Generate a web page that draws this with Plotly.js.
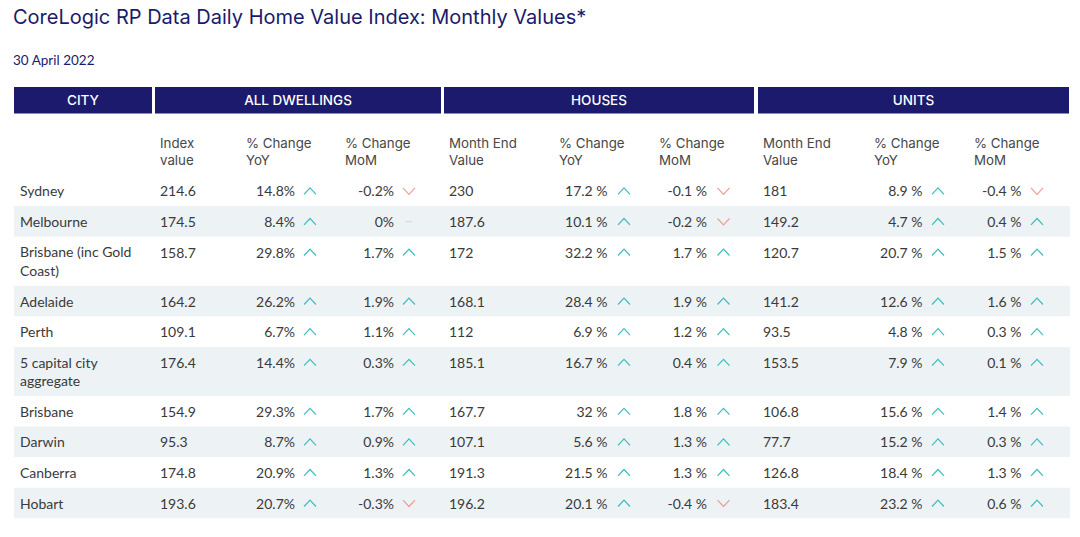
<!DOCTYPE html>
<html><head><meta charset="utf-8">
<script src="https://cdn.plot.ly/plotly-3.0.1.min.js"></script>
<style>html,body{margin:0;padding:0;background:#fff}#chart{width:1080px;height:537px}</style>
</head><body><div id="chart"></div>
<script>
// ---------- data ----------
const titleText = "CoreLogic RP Data Daily Home Value Index: Monthly Values*";
const dateText = "30 April 2022";
const groupHeaders = ["CITY", "ALL DWELLINGS", "HOUSES", "UNITS"];
const subHeaders = ["Index<br>value", "% Change<br>YoY", "% Change<br>MoM",
  "Month End<br>Value", "% Change<br>YoY", "% Change<br>MoM",
  "Month End<br>Value", "% Change<br>YoY", "% Change<br>MoM"];
const cities = ["Sydney", "Melbourne", "Brisbane (inc Gold<br>Coast)", "Adelaide", "Perth",
  "5 capital city<br>aggregate", "Brisbane", "Darwin", "Canberra", "Hobart"];
const dwIndex = [214.6, 174.5, 158.7, 164.2, 109.1, 176.4, 154.9, 95.3, 174.8, 193.6];
const dwYoY   = [14.8, 8.4, 29.8, 26.2, 6.7, 14.4, 29.3, 8.7, 20.9, 20.7];
const dwMoM   = [-0.2, 0, 1.7, 1.9, 1.1, 0.3, 1.7, 0.9, 1.3, -0.3];
const hoValue = [230, 187.6, 172, 168.1, 112, 185.1, 167.7, 107.1, 191.3, 196.2];
const hoYoY   = [17.2, 10.1, 32.2, 28.4, 6.9, 16.7, 32, 5.6, 21.5, 20.1];
const hoMoM   = [-0.1, -0.2, 1.7, 1.9, 1.2, 0.4, 1.8, 1.3, 1.3, -0.4];
const unValue = [181, 149.2, 120.7, 141.2, 93.5, 153.5, 106.8, 77.7, 126.8, 183.4];
const unYoY   = [8.9, 4.7, 20.7, 12.6, 4.8, 7.9, 15.6, 15.2, 18.4, 23.2];
const unMoM   = [-0.4, 0.4, 1.5, 1.6, 0.3, 0.1, 1.4, 0.3, 1.3, 0.6];

// ---------- layout geometry (pixel-like axis units) ----------
const NAVY = "#1b1a6c";
const TXT = "#3a3a3a";
const HDR = "#474747";
const UP = "#3dbdbd";
const DOWN = "#f39b93";
const FLAT = "#c9dfe3";
const SHADE = "#edf2f5";
const bodyFont = "Lato, 'Noto Sans', sans-serif";
const headFont = "Inter, 'Noto Sans', sans-serif";

const groupBoxes = [[14, 152], [155, 441], [444, 754], [758, 1069]];
const boxTop = 87, boxBot = 113.5;
const subX = [160, 246, 345, 449, 559, 659, 763, 874, 974];
const subY = 153;
const cityX = 20;
const tableLeft = 14, tableRight = 1070;
const rowTop0 = 175.5, rowH = 30.6, extraLine = 18.4;
const textShift = 2;

// row geometry
const lineCount = cities.map(c => c.split("<br>").length);
const rowTops = [];
let acc = rowTop0;
lineCount.forEach(n => { rowTops.push(acc); acc += rowH + (n - 1) * extraLine; });
const rowBots = rowTops.map((t, i) => t + rowH + (lineCount[i] - 1) * extraLine);
const firstLineY = rowTops.map(t => t + 15.3);
const textY = firstLineY.map(y => y + textShift);

const traces = [];
const shapes = [];

// header boxes
groupBoxes.forEach(b => shapes.push({type: "rect", xref: "x", yref: "y", x0: b[0], x1: b[1],
  y0: boxTop, y1: boxBot, fillcolor: NAVY, line: {width: 0}, layer: "below"}));
traces.push({type: "scatter", mode: "text", x: groupBoxes.map(b => (b[0] + b[1]) / 2),
  y: groupBoxes.map(() => (boxTop + boxBot) / 2 + 1.5), text: groupHeaders, textposition: "middle center",
  textfont: {family: headFont, size: 13.5, color: "#ffffff", weight: 500}, hoverinfo: "skip"});

// sub headers
traces.push({type: "scatter", mode: "text", x: subX, y: subX.map(() => subY), text: subHeaders,
  textposition: "middle right", textfont: {family: headFont, size: 13.3, color: HDR}, hoverinfo: "skip"});

// row shading
rowTops.forEach((t, i) => {
  if (i % 2 === 1) shapes.push({type: "rect", xref: "x", yref: "y", x0: tableLeft, x1: tableRight,
    y0: t, y1: rowBots[i], fillcolor: SHADE, line: {width: 0}, layer: "below"});
});

// city labels
traces.push({type: "scatter", mode: "text", x: cities.map(() => cityX),
  y: textY.map((y, i) => y + (lineCount[i] - 1) * 18.2 / 2), text: cities,
  textposition: "middle right", textfont: {family: bodyFont, size: 14, color: TXT}, hoverinfo: "skip"});

function leftCol(vals, x) {
  traces.push({type: "scatter", mode: "text", x: vals.map(() => x), y: textY,
    text: vals.map(v => String(v)), textposition: "middle right",
    textfont: {family: bodyFont, size: 14, color: TXT}, hoverinfo: "skip"});
}
function pctCol(vals, xRight, xArrow, sep) {
  traces.push({type: "scatter", mode: "text", x: vals.map(() => xRight), y: textY,
    text: vals.map(v => String(v) + sep + "%"), textposition: "middle left",
    textfont: {family: bodyFont, size: 14, color: TXT}, hoverinfo: "skip"});
  const groups = {up: {x: [], y: []}, down: {x: [], y: []}, flat: {x: [], y: []}};
  vals.forEach((v, i) => {
    const cy = firstLineY[i] + 0.3;
    if (v > 0) { const g = groups.up; g.x.push(xArrow - 6, xArrow, xArrow + 6, null); g.y.push(cy + 3.2, cy - 3.2, cy + 3.2, null); }
    else if (v < 0) { const g = groups.down; g.x.push(xArrow - 6, xArrow, xArrow + 6, null); g.y.push(cy - 3.2, cy + 3.2, cy - 3.2, null); }
    else { const g = groups.flat; g.x.push(xArrow - 3.5, xArrow + 3.5, null); g.y.push(cy, cy, null); }
  });
  [["up", UP], ["down", DOWN], ["flat", FLAT]].forEach(([k, c]) => {
    if (groups[k].x.length) traces.push({type: "scatter", mode: "lines", x: groups[k].x, y: groups[k].y,
      line: {color: c, width: 1.2}, connectgaps: false, hoverinfo: "skip"});
  });
}

leftCol(dwIndex, subX[0]);
pctCol(dwYoY, 295, 310, "");
pctCol(dwMoM, 394, 409, "");
leftCol(hoValue, subX[3]);
pctCol(hoYoY, 607.5, 624, " ");
pctCol(hoMoM, 707, 723.5, " ");
leftCol(unValue, subX[6]);
pctCol(unYoY, 922.5, 938, " ");
pctCol(unMoM, 1021.5, 1037, " ");

const layout = {
  width: 1080, height: 537,
  margin: {l: 0, r: 0, t: 0, b: 0},
  paper_bgcolor: "#ffffff", plot_bgcolor: "#ffffff",
  showlegend: false,
  xaxis: {range: [0, 1080], visible: false, fixedrange: true},
  yaxis: {range: [537, 0], visible: false, fixedrange: true},
  title: {text: titleText, x: 13 / 1080, xanchor: "left", y: 1 - 17 / 537, yanchor: "middle",
    font: {family: headFont, size: 20, color: NAVY}},
  annotations: [{text: dateText, xref: "x", yref: "y", x: 11, y: 59.5, xanchor: "left", yanchor: "middle",
    showarrow: false, font: {family: bodyFont, size: 13.5, color: NAVY}}],
  shapes: shapes
};

Plotly.newPlot("chart", traces, layout, {staticPlot: true, displayModeBar: false});
</script>
</body></html>
